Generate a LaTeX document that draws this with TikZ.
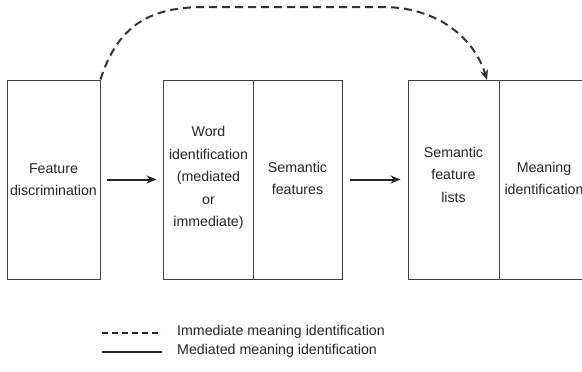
\documentclass[tikz,border=0pt]{standalone}
\usepackage{fontspec}
\setmainfont{Liberation Sans}
\usetikzlibrary{arrows.meta}
\begin{document}
\begin{tikzpicture}[x=1pt,y=-1pt,
  box/.style={draw=black!75,line width=0.9pt,minimum height=199pt,inner sep=0pt},
  lbl/.style={font=\fontsize{14.2}{22.5}\selectfont,text=black!85,align=center,inner sep=0pt},
  arr/.style={draw=black!85,line width=2pt,-{Stealth[length=10pt,width=8pt]}},
  dsh/.style={draw=black!80,line width=2pt,dash pattern=on 8pt off 5pt},
  key/.style={font=\fontsize{14.2}{16}\selectfont,text=black!85,anchor=west,inner sep=0pt}]
\useasboundingbox (0,0) rectangle (582,372);
\fill[white] (0,0) rectangle (582,372);
% stage boxes
\node[box,minimum width=93pt] (fd) at (53.5,179.5) {};
\node[box,minimum width=90pt] (wi) at (208,179.5) {};
\node[box,minimum width=89pt] (sf) at (297.5,179.5) {};
\node[box,minimum width=91pt] (sl) at (453.5,179.5) {};
\node[box,minimum width=93pt] (mi) at (545.5,179.5) {};
% box labels
\node[lbl] (fdt) at (53.5,179.5) {Feature\\discrimination};
\node[lbl] (wit) at (208.5,178) {Word\\identification\\(mediated\\or\\immediate)};
\node[lbl] (sft) at (297.5,178.5) {Semantic\\features};
\node[lbl] (slt) at (453.5,174.5) {Semantic\\feature\\lists};
\node[lbl] (mit) at (544,178.5) {Meaning\\identification};
% mediated route
\draw[arr,shorten <=7pt,shorten >=6pt] (fd) -- (wi);
\draw[arr,shorten <=8pt,shorten >=7pt] (sf) -- (sl);
% immediate route
\coordinate (hit) at (487,80);
\draw[dsh,-{Stealth[length=10pt,width=8pt]}] (fd.north east)
  .. controls (118,25) and (150,7) .. (205,7) -- (385,7)
  .. controls (440,8) and (475,40) .. (hit);
% legend
\coordinate (d0) at (102,333); \coordinate (d1) at (162,333);
\coordinate (s0) at (102,352); \coordinate (s1) at (162,352);
\draw[draw=black!85,line width=1.6pt,dash pattern=on 6pt off 4pt] (d0) -- (d1);
\draw[draw=black!85,line width=1.2pt] (s0) -- (s1);
\node[key] (k1) at (177,332) {Immediate meaning identification};
\node[key] (k2) at (177,351) {Mediated meaning identification};
\end{tikzpicture}
\end{document}
